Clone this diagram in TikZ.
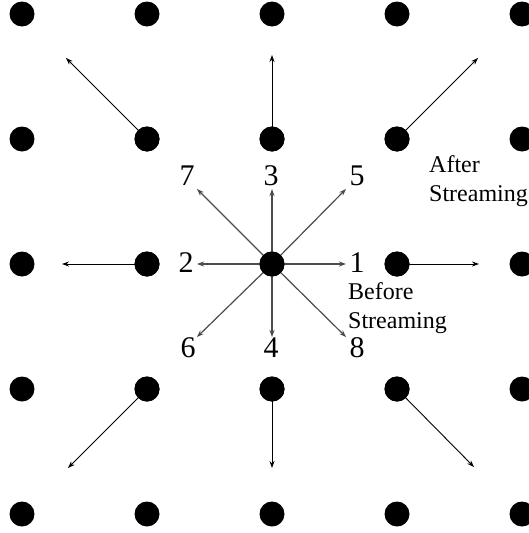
\documentclass[tikz,border=0pt]{standalone}
\usepackage{fontspec}
\setmainfont{Liberation Serif}
\usetikzlibrary{arrows.meta}
\begin{document}
\begin{tikzpicture}[x=1pt,y=-1pt,
  dot/.style={circle,fill=black,minimum size=25pt,inner sep=0pt},
  inarrow/.style={draw=black!70,line width=1.2pt,-{Stealth[length=7pt,width=5pt]}},
  outarrow/.style={draw=black,line width=0.9pt,-{Stealth[length=7pt,width=5pt]}},
  num/.style={anchor=base,inner sep=0pt,font=\fontsize{30}{30}\selectfont},
  txt/.style={anchor=base west,inner sep=0pt,align=left,font=\fontsize{24}{29}\selectfont}]
\useasboundingbox (0,0) rectangle (529,533);
% grid of dots
\foreach \i/\x in {0/22,1/147,2/272,3/397,4/522}{
  \foreach \j/\y in {0/14,1/139,2/264,3/389,4/514}{
    \node[dot] (d\i\j) at (\x,\y) {};
  }
}
% inner arrow ends
\coordinate (e1) at (346,264);
\coordinate (e2) at (197,264);
\coordinate (e3) at (272,189);
\coordinate (e4) at (272,337);
\coordinate (e5) at (346,189);
\coordinate (e6) at (197,337);
\coordinate (e7) at (197,189);
\coordinate (e8) at (346,337);
\foreach \k in {1,...,8}{
  \draw[inarrow] (d22.center) -- (e\k);
}
\node[dot] at (d22) {};
% labels
\node[num] (l7) at (187,185) {7};
\node[num] (l3) at (271,185) {3};
\node[num] (l5) at (357,185) {5};
\node[num] (l2) at (186,272) {2};
\node[num] (l1) at (357,272) {1};
\node[num] (l6) at (188,357) {6};
\node[num] (l4) at (271,357) {4};
\node[num] (l8) at (357,357) {8};
\node[txt] (before) at (348,328) {Before\\Streaming};
\node[txt] (after) at (429,201) {After\\Streaming};
% outer arrow ends
\coordinate (o7) at (66,58);
\coordinate (o3) at (272,55);
\coordinate (o5) at (478,58);
\coordinate (o2) at (62,264);
\coordinate (o1) at (479,264);
\coordinate (o6) at (68,468);
\coordinate (o4) at (272,468);
\coordinate (o8) at (474,467);
\draw[outarrow] (d11.center) -- (o7);
\draw[outarrow] (d21.center) -- (o3);
\draw[outarrow] (d31.center) -- (o5);
\draw[outarrow] (d12.center) -- (o2);
\draw[outarrow] (d32.center) -- (o1);
\draw[outarrow] (d13.center) -- (o6);
\draw[outarrow] (d23.center) -- (o4);
\draw[outarrow] (d33.center) -- (o8);
\foreach \i/\j in {1/1,2/1,3/1,1/2,3/2,1/3,2/3,3/3}{
  \node[dot] at (d\i\j) {};
}
\end{tikzpicture}
\end{document}
